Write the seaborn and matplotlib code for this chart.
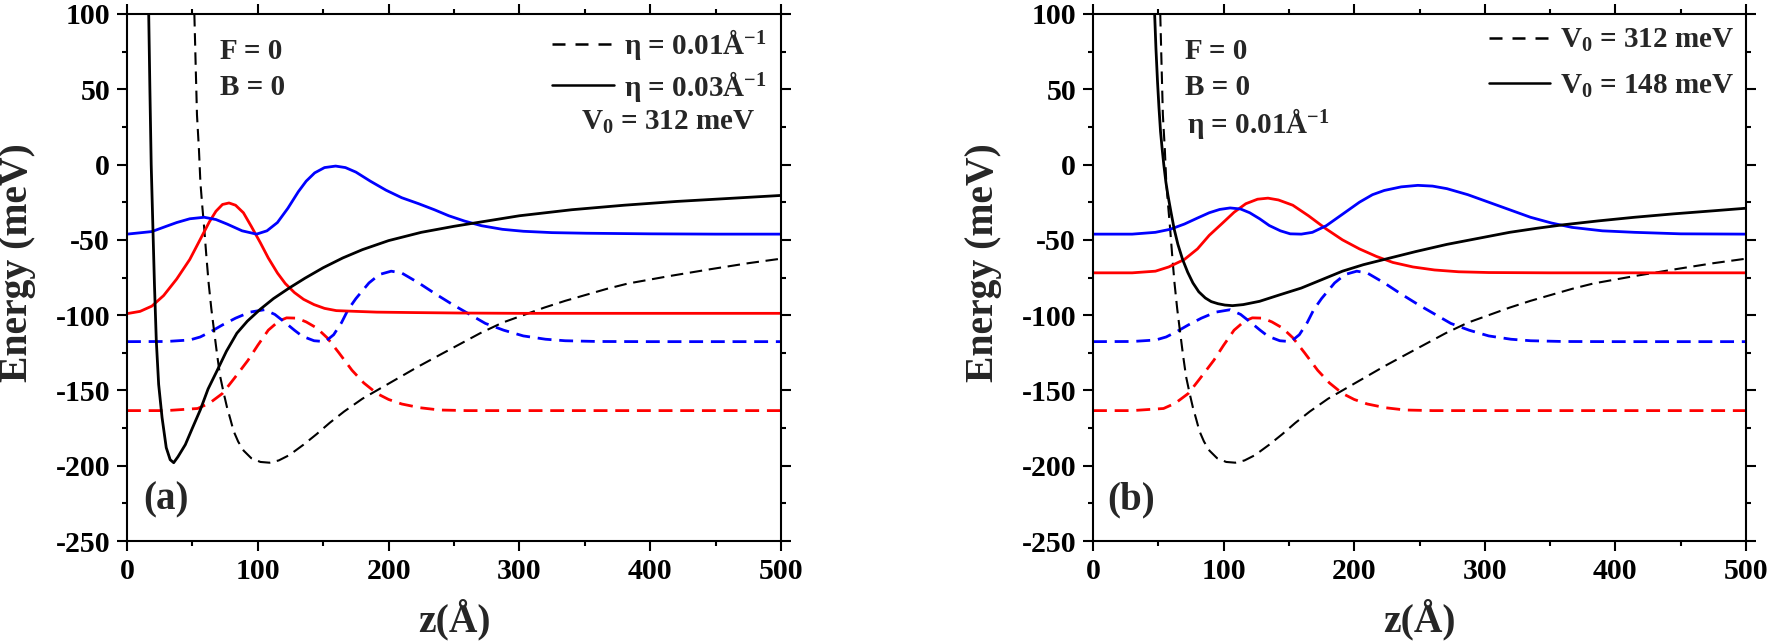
import numpy as np
import pandas as pd
import matplotlib
matplotlib.use("Agg")
import matplotlib.pyplot as plt
import seaborn as sns
from matplotlib.ticker import MultipleLocator
from matplotlib.lines import Line2D

# ---------------- data ----------------
# shared curves: eta = 0.01 1/A, V0 = 312 meV (dashed)
z_pot01 = [51.5, 52.5, 53.5, 55.0, 56.1, 57.5, 59.1, 60.7, 62.4, 64.5, 66.8, 69.0, 71.3, 74.0, 76.4, 79.0, 81.5, 85.0, 89.2, 95.0, 102.0, 109.0, 116.0, 124.0, 135.0, 145.0, 155.0, 166.0, 180.0, 191.0, 205.0, 223.0, 240.0, 255.0, 270.0, 287.0, 303.0, 319.0, 335.0, 351.0, 367.0, 383.0, 415.0, 446.0, 475.0, 500.0]
E_pot01 = [100, 66, 33, 10, -11.6, -27, -43, -61, -78.6, -96, -112, -127, -141, -152, -161, -169, -177, -184, -190, -195, -197.5, -198, -196.5, -193, -186, -179, -171.5, -164, -155.5, -150, -143, -134, -126, -119, -112, -105, -100, -95, -90.5, -86.5, -82.5, -79, -74, -69.5, -65.5, -62.5]

z_blue01 = [0, 30, 48, 56, 64, 73, 83, 94, 105, 113, 121, 128, 134, 143, 151.5, 158, 164, 169, 175, 185, 193, 202, 210, 223, 236, 249, 261, 274, 288, 303, 320, 335, 360, 400, 450, 500]
E_blue01 = [-117.6, -117.5, -116.5, -114.5, -111, -106.5, -102, -98, -96.4, -99.5, -105, -110, -114, -117, -117.6, -113, -105, -96.4, -89, -78.6, -73, -70.8, -72, -78.6, -86, -93, -99, -105.5, -110, -113.8, -116, -117, -117.5, -117.6, -117.6, -117.6]

z_red01 = [0, 30, 54, 63, 73, 82, 92.5, 100, 108, 116, 122, 130, 137, 145, 153, 162, 172, 181, 191, 200, 210, 224, 239, 260, 300, 400, 500]
E_red01 = [-163.4, -163.4, -162, -158.5, -152, -142, -130, -120, -110, -104, -101.8, -102, -104.5, -108.5, -115, -125, -136.6, -145, -152, -156, -159, -161.5, -163, -163.4, -163.4, -163.4, -163.4]

# panel (a): eta = 0.03 1/A, V0 = 312 meV (solid)
z_pot03 = [16.6, 17.5, 18.5, 19.9, 21.0, 22.4, 24.2, 26.8, 30.0, 33.0, 35.7, 39.0, 44.6, 50.0, 56.0, 62.0, 68.8, 76.0, 84.0, 92.0, 102.0, 112.0, 124.0, 136.0, 150.0, 165.0, 180.0, 200.0, 225.0, 250.0, 275.0, 300.0, 340.0, 380.0, 420.0, 460.0, 500.0]
E_pot03 = [100, 50, 0, -45, -80, -117, -146, -168, -188, -196, -198, -194, -186, -175, -163, -149, -137, -124, -112, -104, -96, -89, -82, -75.5, -68.5, -62, -56.5, -50.5, -45, -41, -37.5, -34, -30, -27, -24.5, -22.5, -20.5]

z_red03 = [0, 10, 19, 28, 38, 48, 57, 63, 68, 73, 78, 83, 89, 95, 102, 108, 115, 121, 128, 135, 143, 151, 160, 175, 191, 220, 255, 300, 400, 500]
E_red03 = [-99, -97.5, -94, -87, -76, -63, -48, -38, -31, -26.5, -25.5, -27, -32, -41, -52, -62, -72, -79, -85, -89.5, -93, -95.5, -97, -97.5, -98, -98.3, -98.6, -98.8, -98.8, -98.8]

z_blue03 = [0, 19, 30, 38, 48, 59, 68, 76.5, 88, 99, 107, 115, 123, 131, 137, 143.5, 151, 159.5, 167, 175, 186, 198, 210, 223, 235, 246, 258, 271, 287, 303, 325, 351, 400, 450, 500]
E_blue03 = [-46.2, -44.5, -41, -38.5, -36, -35, -36.5, -39.5, -44, -46.2, -44, -38.5, -29, -18, -11, -5.5, -2, -1, -2, -5, -11, -17, -22, -26, -30, -34, -37.5, -40.6, -43, -44.3, -45.2, -45.6, -46, -46.2, -46.2]

# panel (b): eta = 0.01 1/A, V0 = 148 meV (solid)
z_pot148 = [47.2, 48.2, 49.4, 50.5, 51.7, 53.0, 54.2, 55.8, 57.4, 59.8, 62.2, 65.0, 68.6, 72.5, 76.5, 81.0, 86.0, 90.5, 95.7, 101.0, 106.8, 115.0, 127.6, 143.0, 159.5, 175.0, 191.0, 207.0, 223.0, 247.0, 271.0, 295.0, 319.0, 340.0, 360.0, 387.0, 414.6, 445.0, 475.0, 500.0]
E_pot148 = [100, 77, 55, 38, 22, 10, 0, -11.6, -20.5, -32, -43, -53, -63, -71.5, -78.6, -84.5, -88.6, -91, -92.4, -93.3, -93.7, -93, -90.8, -86.5, -82, -76.5, -70.8, -66.5, -63, -57.8, -53, -49, -45, -42.3, -40, -37.4, -35, -32.7, -30.7, -29]

z_red148 = [0, 30, 47.8, 58, 70, 80, 89, 99, 108, 117, 126, 134, 142, 153, 165, 178.6, 191, 204, 217, 229.6, 245, 261.5, 280, 303, 350, 400, 500]
E_red148 = [-71.9, -71.9, -70.8, -68, -63, -56, -47, -39, -31.7, -26, -23, -22.3, -23.5, -27, -34, -42.8, -50, -56, -61, -65, -68, -70, -71.2, -71.7, -71.9, -71.9, -71.9]

z_blue148 = [0, 30, 47.8, 59, 70, 80, 89, 97, 105, 113, 120, 127.6, 135, 143.5, 151, 159.5, 168, 178.6, 191, 204, 214, 223, 236, 248.7, 260, 271, 287, 303, 319, 335, 351, 366.7, 390, 414.6, 450, 500]
E_blue148 = [-46.2, -46.2, -45, -43, -39.5, -35.5, -32, -29.8, -28.8, -29.5, -32, -36, -40.5, -44, -46, -46.2, -45, -40.6, -33, -25, -20, -17.2, -14.8, -13.8, -14.3, -16, -20, -25, -30, -35, -38.8, -41.7, -44, -45, -46, -46.2]

x_ticks = [0, 100, 200, 300, 400, 500]
y_ticks = [-250, -200, -150, -100, -50, 0, 50, 100]

# ---------------- style ----------------
sns.set_style("ticks")
plt.rcParams.update({
    "font.family": ["Liberation Serif", "DejaVu Serif"],
    "font.weight": "bold",
    "axes.unicode_minus": False,
    "mathtext.fontset": "custom",
    "mathtext.rm": "Liberation Serif:bold",
    "mathtext.it": "Liberation Serif:bold",
    "mathtext.bf": "Liberation Serif:bold",
    "mathtext.default": "rm",
    "axes.linewidth": 1.5,
    "axes.edgecolor": "black",
    "xtick.color": "black",
    "ytick.color": "black",
})

BLUE = "#0000FF"
RED = "#FF0000"
TXT = 21

fig = plt.figure(figsize=(17.69, 6.41), dpi=100)
axA = fig.add_axes([127 / 1769, 100 / 641, 654 / 1769, 527 / 641])
axB = fig.add_axes([1093 / 1769, 100 / 641, 653 / 1769, 527 / 641])


def draw(ax, z, E, color, lw, dashes=None):
    df = pd.DataFrame({"z": z, "E": E})
    sns.lineplot(data=df, x="z", y="E", ax=ax, color=color, linewidth=lw,
                 estimator=None, sort=False, legend=False)
    line = ax.lines[-1]
    line.set_solid_joinstyle("round")
    line.set_dash_joinstyle("round")
    if dashes is not None:
        line.set_dashes(dashes)
    return line


for ax, (zp, Ep), (zr, Er), (zb, Eb) in [
    (axA, (z_pot03, E_pot03), (z_red03, E_red03), (z_blue03, E_blue03)),
    (axB, (z_pot148, E_pot148), (z_red148, E_red148), (z_blue148, E_blue148)),
]:
    draw(ax, z_red01, E_red01, RED, 2.0, (5.0, 2.8))
    draw(ax, z_blue01, E_blue01, BLUE, 2.0, (5.0, 2.8))
    draw(ax, z_pot01, E_pot01, "black", 1.5, (6.0, 3.2))
    draw(ax, zr, Er, RED, 2.0)
    draw(ax, zb, Eb, BLUE, 2.0)
    draw(ax, zp, Ep, "black", 2.0)

    ax.set_xlim(0, 500)
    ax.set_ylim(-250, 100)
    ax.set_xticks(x_ticks)
    ax.set_yticks(y_ticks)
    ax.xaxis.set_minor_locator(MultipleLocator(50))
    ax.yaxis.set_minor_locator(MultipleLocator(25))
    ax.tick_params(which="both", direction="out", top=True, right=True,
                   width=1.5, labelsize=21.5, pad=5)
    ax.tick_params(which="major", length=7.2)
    ax.tick_params(which="minor", length=3.3)
    for lab in ax.get_xticklabels() + ax.get_yticklabels():
        lab.set_fontweight("bold")
    for sp in ax.spines.values():
        sp.set_visible(True)
        sp.set_linewidth(1.5)
    ax.set_xlabel("z(Å)", fontsize=28.5, fontweight="bold", labelpad=10)
    ax.set_ylabel("Energy (meV)", fontsize=28.5, fontweight="bold")
    ax.yaxis.set_label_coords(-0.139, 0.529)

    ax.text(0.1416, 0.914, "F = 0", transform=ax.transAxes, fontsize=TXT,
            fontweight="bold", ha="left", va="baseline")
    ax.text(0.1416, 0.847, "B = 0", transform=ax.transAxes, fontsize=TXT,
            fontweight="bold", ha="left", va="baseline")

axA.text(0.025, 0.077, "(a)", transform=axA.transAxes, fontsize=28,
         fontweight="bold", ha="left", va="center")
axB.text(0.022, 0.077, "(b)", transform=axB.transAxes, fontsize=28,
         fontweight="bold", ha="left", va="center")

axB.text(0.1435, 0.774, "η = 0.01Å$^{-1}$", transform=axB.transAxes,
         fontsize=TXT, fontweight="bold", ha="left", va="baseline")
axA.text(0.96, 0.78, "V$_{0}$ = 312 meV", transform=axA.transAxes,
         fontsize=TXT, fontweight="bold", ha="right", va="baseline")

h_dash = Line2D([], [], color="black", lw=1.8, dashes=(5.2, 4.0))
h_solid = Line2D([], [], color="black", lw=1.8)

legA = axA.legend([h_dash, h_solid], ["η = 0.01Å$^{-1}$", "η = 0.03Å$^{-1}$"],
                  loc="upper right", bbox_to_anchor=(0.978, 0.975), frameon=False,
                  handlelength=2.1, handletextpad=0.35, labelspacing=0.22,
                  borderpad=0, borderaxespad=0, prop={"size": TXT, "weight": "bold"})
legB = axB.legend([h_dash, h_solid], ["V$_{0}$ = 312 meV", "V$_{0}$ = 148 meV"],
                  loc="upper right", bbox_to_anchor=(0.982, 0.975), frameon=False,
                  handlelength=2.1, handletextpad=0.35, labelspacing=0.62,
                  borderpad=0, borderaxespad=0, prop={"size": TXT, "weight": "bold"})

fig.savefig("out.png", dpi=100)
